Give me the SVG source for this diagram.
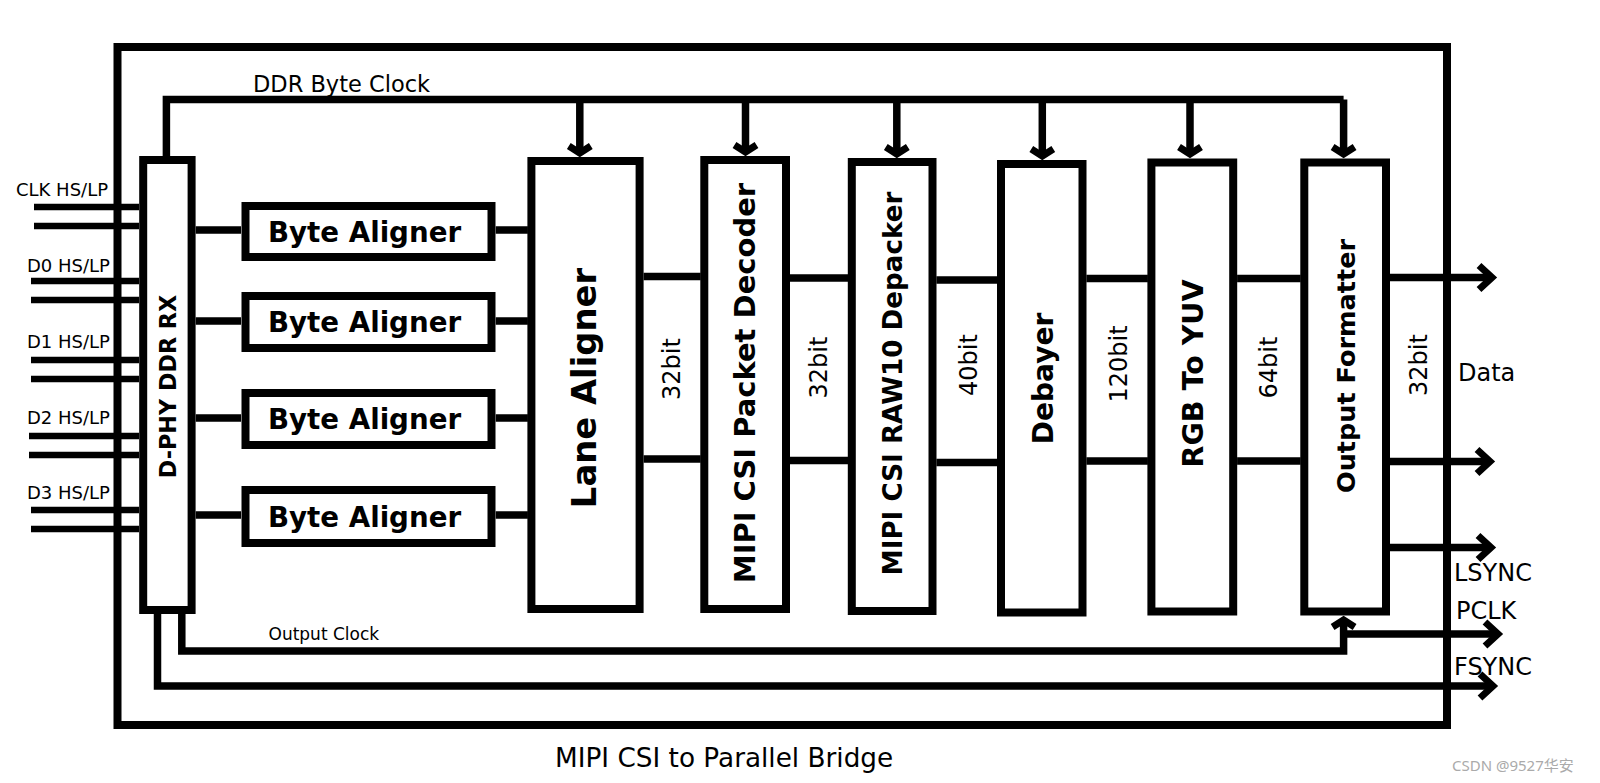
<svg xmlns="http://www.w3.org/2000/svg" width="1600" height="783" viewBox="0 0 1600 783">
<defs>
<style>
.box{fill:none;stroke:#000;stroke-width:8}
.w{fill:none;stroke:#000;stroke-width:7.5}
.in{fill:none;stroke:#000;stroke-width:6.5}
.t{font-family:"DejaVu Sans",Verdana,sans-serif;fill:#000}
.b{font-weight:bold}
.ah{marker-end:url(#ah)}
.av{marker-end:url(#av)}
</style>
<marker id="ah" markerUnits="userSpaceOnUse" orient="auto" overflow="visible" markerWidth="1" markerHeight="1" refX="0" refY="0">
<path d="M-13,-12 L0,0 L-13,12" fill="none" stroke="#000" stroke-width="7"/>
</marker>
<marker id="av" markerUnits="userSpaceOnUse" orient="auto" overflow="visible" markerWidth="1" markerHeight="1" refX="0" refY="0">
<path d="M-7,-11 L0,0 L-7,11" fill="none" stroke="#000" stroke-width="7"/>
</marker>
</defs>
<rect width="1600" height="783" fill="#fff"/>
<g id="frame">
<rect class="box" x="117.5" y="47" width="1329.5" height="678"/>
<text class="t" x="555" y="767" font-size="26.3">MIPI CSI to Parallel Bridge</text>
</g>
<g id="connectors">
<path class="in" d="M34,207H139M34,226H139M31,281H139M31,300H139M31,360H139M31,379H139M29,436H139M29,455H139M31,510H139M31,529H139"/>
<path class="w" d="M166.4,160V99.5H1343.6"/>
<path class="w av" d="M579.8,99.5V153"/>
<path class="w av" d="M745.5,99.5V152"/>
<path class="w av" d="M896.8,99.5V154"/>
<path class="w av" d="M1042.3,99.5V156"/>
<path class="w av" d="M1190,99.5V154"/>
<path class="w av" d="M1343.6,99.5V154"/>
<path class="w" d="M195.7,230H241M195.7,321H241M195.7,418H241M195.7,515H241"/>
<path class="w" d="M495.7,230H527.9M495.7,321H527.9M495.7,418H527.9M495.7,515H527.9"/>
<path class="w" d="M643.6,276.5H700.7M643.6,459H700.7M790,278H848.2M790,460.5H848.2M936.4,280H997.5M936.4,462.5H997.5M1086.4,278.5H1147.9M1086.4,461H1147.9M1237.1,278.5H1300.7M1237.1,461H1300.7"/>
<path class="w ah" d="M1390,277.5H1492"/>
<path class="w ah" d="M1390,461.5H1490"/>
<path class="w ah" d="M1390,547.5H1491"/>
<path class="w av" d="M181.8,610V651H1343.6V620"/>
<path class="w ah" d="M1343.6,634H1498"/>
<path class="w ah" d="M157.5,610V686H1493"/>
<text class="t" x="253" y="92" font-size="22.5">DDR Byte Clock</text>
<text class="t" x="268.5" y="640" font-size="17">Output Clock</text>
<text class="t" x="16" y="196" font-size="18">CLK HS/LP</text>
<text class="t" x="27" y="272" font-size="18">D0 HS/LP</text>
<text class="t" x="27" y="348" font-size="18">D1 HS/LP</text>
<text class="t" x="27" y="424" font-size="18">D2 HS/LP</text>
<text class="t" x="27" y="499" font-size="18">D3 HS/LP</text>
<text class="t" x="1458" y="381" font-size="24">Data</text>
<text class="t" x="1454" y="581" font-size="24">LSYNC</text>
<text class="t" x="1456" y="619" font-size="24">PCLK</text>
<text class="t" x="1454" y="675" font-size="24">FSYNC</text>
<g class="t" font-size="24" text-anchor="middle">
<text transform="translate(671.5,369) rotate(-90)" y="8.8">32bit</text>
<text transform="translate(818.5,367.5) rotate(-90)" y="8.8">32bit</text>
<text transform="translate(968,365) rotate(-90)" y="8.8">40bit</text>
<text transform="translate(1118,364) rotate(-90)" y="8.8">120bit</text>
<text transform="translate(1267.7,367.5) rotate(-90)" y="8.8">64bit</text>
<text transform="translate(1417.7,365) rotate(-90)" y="8.8">32bit</text>
</g>
</g>
<g id="dphy">
<rect class="box" x="143.2" y="160" width="48.4" height="450"/>
<text class="t b" transform="translate(167.9,386.5) rotate(-90)" y="8" font-size="22.3" text-anchor="middle">D-PHY DDR RX</text>
</g>
<g id="byte-aligner-1">
<rect class="box" x="245.5" y="206" width="246" height="51"/>
<text class="t b" x="364.5" y="241.5" font-size="27.7" text-anchor="middle">Byte Aligner</text>
</g>
<g id="byte-aligner-2">
<rect class="box" x="245.5" y="296" width="246" height="52"/>
<text class="t b" x="364.5" y="332" font-size="27.7" text-anchor="middle">Byte Aligner</text>
</g>
<g id="byte-aligner-3">
<rect class="box" x="245.5" y="393" width="246" height="52"/>
<text class="t b" x="364.5" y="429" font-size="27.7" text-anchor="middle">Byte Aligner</text>
</g>
<g id="byte-aligner-4">
<rect class="box" x="245.5" y="490" width="246" height="53"/>
<text class="t b" x="364.5" y="526.5" font-size="27.7" text-anchor="middle">Byte Aligner</text>
</g>
<g id="lane-aligner">
<rect class="box" x="531.4" y="161" width="108.2" height="448"/>
<text class="t b" transform="translate(584,388) rotate(-90)" y="12.3" font-size="33.8" text-anchor="middle">Lane Aligner</text>
</g>
<g id="packet-decoder">
<rect class="box" x="704.3" y="160" width="81.7" height="449"/>
<text class="t b" transform="translate(744.5,383) rotate(-90)" y="10.5" font-size="29" text-anchor="middle">MIPI CSI Packet Decoder</text>
</g>
<g id="raw10-depacker">
<rect class="box" x="851.8" y="162" width="80.7" height="449"/>
<text class="t b" transform="translate(892.5,383.5) rotate(-90)" y="9.6" font-size="26.2" text-anchor="middle">MIPI CSI RAW10 Depacker</text>
</g>
<g id="debayer">
<rect class="box" x="1001" y="164" width="81.5" height="448.5"/>
<text class="t b" transform="translate(1042.3,378.5) rotate(-90)" y="10.2" font-size="28" text-anchor="middle">Debayer</text>
</g>
<g id="rgb-to-yuv">
<rect class="box" x="1151.4" y="162.5" width="81.8" height="449"/>
<text class="t b" transform="translate(1193,373.5) rotate(-90)" y="10.4" font-size="28.5" text-anchor="middle">RGB To YUV</text>
</g>
<g id="output-formatter">
<rect class="box" x="1304.3" y="162.5" width="81.7" height="449"/>
<text class="t b" transform="translate(1346,366) rotate(-90)" y="9.3" font-size="25.5" text-anchor="middle">Output Formatter</text>
</g>
<text x="1452" y="771" font-size="15" fill="#aaa" font-family="'Noto Sans','Noto Sans CJK SC',sans-serif">CSDN @9527华安</text>
</svg>
